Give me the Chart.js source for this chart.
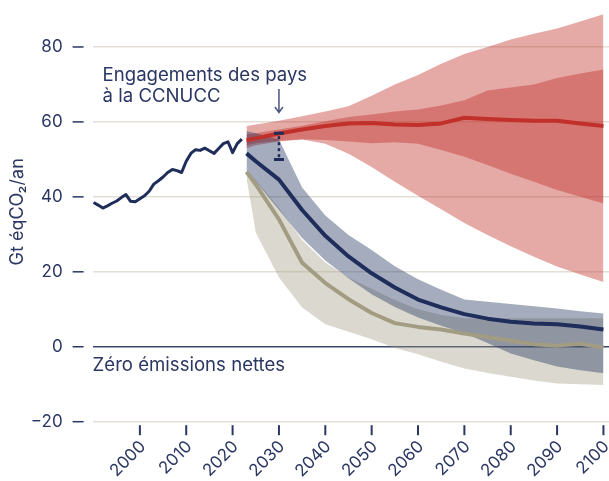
<!DOCTYPE html>
<html lang="fr">
<head>
<meta charset="utf-8">
<script src="https://cdn.jsdelivr.net/npm/chart.js@4.4.1/dist/chart.umd.min.js"></script>
<style>
  html, body { margin: 0; padding: 0; background: #ffffff; }
  canvas { display: block; }
</style>
</head>
<body>
<canvas id="chart" width="609" height="481"></canvas>
<script>
// Historical emissions (Gt CO2e / year)
const histYears = [1990,1991,1992,1993,1994,1995,1996,1997,1998,1999,2000,2001,2002,2003,2004,2005,2006,2007,2008,2009,2010,2011,2012,2013,2014,2015,2016,2017,2018,2019,2020,2021,2022];
const histValues = [38.5,37.8,37.0,37.6,38.3,38.9,39.8,40.6,38.8,38.7,39.5,40.3,41.5,43.4,44.3,45.3,46.5,47.3,47.0,46.5,49.5,51.6,52.6,52.4,53.0,52.3,51.6,52.9,54.2,54.7,51.8,54.2,55.4];

// Projection years
const projYears = [2023,2025,2030,2035,2040,2045,2050,2055,2060,2065,2070,2075,2080,2085,2090,2095,2100];

// Current policies: median and ranges
const policyMedian   = [55.1,55.6,56.9,58.0,58.9,59.6,59.7,59.3,59.2,59.6,61.1,60.8,60.5,60.3,60.3,59.6,58.9];
const policyOuterHigh= [58.9,59.3,60.3,61.5,62.8,64.2,67.0,70.0,72.5,75.5,78.1,80.0,82.0,83.5,84.9,86.8,88.7];
const policyOuterLow = [53.0,53.8,54.8,55.3,54.2,51.5,48.0,44.0,40.3,36.7,33.0,29.8,26.8,24.0,21.4,19.3,17.3];
const policyInnerHigh= [56.6,57.0,58.0,59.0,60.2,61.3,62.0,62.8,63.3,64.4,65.8,68.4,69.2,70.0,71.7,72.9,74.0];
const policyInnerLow = [53.8,54.3,55.0,55.4,55.2,54.8,54.3,54.6,54.2,52.5,50.7,48.5,46.2,44.0,41.8,40.0,38.2];

// 2 °C pathways
const path2Median = [51.6,49.5,44.6,36.5,29.6,24.1,19.6,15.8,12.6,10.5,8.7,7.5,6.7,6.2,6.0,5.4,4.6];
const path2High   = [57.5,57.0,55.3,42.5,35.0,29.8,25.8,21.5,18.0,15.2,12.6,12.0,11.4,10.8,10.2,9.5,8.9];
const path2Low    = [47.0,44.0,36.5,29.0,23.0,18.3,14.0,10.6,7.8,5.6,3.6,1.0,-1.8,-3.6,-5.3,-6.3,-7.1];

// 1.5 °C pathways
const path15Median = [46.7,43.3,34.0,22.4,17.0,12.7,9.0,6.3,5.3,4.6,3.5,2.6,1.6,0.7,0.3,0.8,-0.2];
const path15High   = [47.0,44.5,37.0,28.5,22.5,18.5,15.5,12.5,10.0,8.5,7.6,7.6,7.6,7.6,7.6,7.6,7.6];
const path15Low    = [45.0,30.5,18.5,10.5,6.0,4.0,2.0,-0.3,-2.0,-4.0,-5.8,-7.0,-8.0,-9.0,-9.8,-10.0,-10.2];

// NDC range in 2030
const ndcYear = 2030;
const ndcLow = 50;
const ndcHigh = 57;

// Axis ticks
const xTickValues = [2000,2010,2020,2030,2040,2050,2060,2070,2080,2090,2100];
const yTickValues = [-20,0,20,40,60,80];

const textColor = '#2b3763';
const navy = '#1f2d5b';
const red = '#c1302a';
const sand = '#a29c83';
const labelFont = "Inter, 'Noto Sans', sans-serif";

Chart.defaults.font.family = labelFont;
Chart.defaults.color = textColor;

function pts(xs, ys) { return xs.map((v, i) => ({ x: v, y: ys[i] })); }

function band(high, low, color, order) {
  return [
    { data: pts(projYears, high), fill: '+1', backgroundColor: color, borderWidth: 0, pointRadius: 0, order: order },
    { data: pts(projYears, low), fill: false, borderWidth: 0, pointRadius: 0, order: order + 0.1 }
  ];
}

function line(xs, ys, color, width, order) {
  return { data: pts(xs, ys), borderColor: color, borderWidth: width, pointRadius: 0, fill: false,
           tension: 0, borderJoinStyle: 'round', order: order };
}

const decorations = {
  id: 'decorations',
  afterDraw(chart) {
    const { ctx, chartArea, scales: { x, y } } = chart;
    ctx.save();

    // short dashes beside the value labels
    ctx.strokeStyle = textColor;
    ctx.lineWidth = 1.5;
    yTickValues.forEach(v => {
      const py = y.getPixelForValue(v);
      ctx.beginPath();
      ctx.moveTo(chartArea.left - 20, py);
      ctx.lineTo(chartArea.left - 9, py);
      ctx.stroke();
    });

    // year tick marks
    ctx.lineWidth = 2;
    xTickValues.forEach(v => {
      const px = x.getPixelForValue(v);
      ctx.beginPath();
      ctx.moveTo(px, chartArea.bottom + 3.5);
      ctx.lineTo(px, chartArea.bottom + 13.5);
      ctx.stroke();
    });

    // NDC range bar
    const nx = x.getPixelForValue(ndcYear);
    const nTop = y.getPixelForValue(ndcHigh);
    const nBot = y.getPixelForValue(ndcLow);
    ctx.strokeStyle = navy;
    ctx.lineWidth = 3;
    ctx.beginPath();
    ctx.moveTo(nx - 5, nTop); ctx.lineTo(nx + 5, nTop);
    ctx.moveTo(nx - 5, nBot); ctx.lineTo(nx + 5, nBot);
    ctx.stroke();
    ctx.lineWidth = 2.5;
    ctx.setLineDash([3, 3]);
    ctx.beginPath();
    ctx.moveTo(nx, nTop + 3); ctx.lineTo(nx, nBot - 2);
    ctx.stroke();
    ctx.setLineDash([]);

    // arrow pointing at the bar
    ctx.strokeStyle = '#4a5580';
    ctx.lineWidth = 1.5;
    ctx.beginPath();
    ctx.moveTo(nx, 89); ctx.lineTo(nx, 112);
    ctx.moveTo(nx - 4, 107); ctx.lineTo(nx, 112.5); ctx.lineTo(nx + 4, 107);
    ctx.stroke();

    // annotations
    ctx.fillStyle = textColor;
    ctx.font = '18.6px ' + labelFont;
    ctx.textAlign = 'left';
    ctx.textBaseline = 'alphabetic';
    ctx.fillText('Engagements des pays', chartArea.left + 10, 81);
    ctx.fillText('à la CCNUCC', chartArea.left + 10, 102);
    ctx.fillText('Zéro émissions nettes', chartArea.left, y.getPixelForValue(0) + 24);

    ctx.restore();
  }
};

new Chart(document.getElementById('chart'), {
  type: 'line',
  data: {
    datasets: [
      line(histYears, histValues, navy, 3, 0),
      line(projYears, path2Median, navy, 4, 1),
      line(projYears, path15Median, sand, 4, 2),
      line(projYears, policyMedian, red, 4, 3),
      ...band(path2High, path2Low, 'rgba(31,47,92,0.40)', 4),
      ...band(path15High, path15Low, 'rgba(160,154,128,0.38)', 5),
      ...band(policyInnerHigh, policyInnerLow, 'rgba(192,48,42,0.42)', 6),
      ...band(policyOuterHigh, policyOuterLow, 'rgba(192,48,42,0.415)', 7)
    ]
  },
  options: {
    responsive: false,
    animation: false,
    layout: { padding: { top: 2, right: 0, bottom: 0, left: 0 } },
    plugins: { legend: { display: false }, tooltip: { enabled: false } },
    scales: {
      x: {
        type: 'linear',
        min: 1989.8,
        max: 2101.2,
        afterBuildTicks(scale) { scale.ticks = xTickValues.map(v => ({ value: v })); },
        afterFit(scale) {
          scale.height = 59.3;
          scale.paddingLeft = 0; scale.paddingRight = 0;
          scale.paddingTop = 0; scale.paddingBottom = 0;
        },
        border: { display: false },
        grid: { display: false, drawTicks: false },
        ticks: {
          autoSkip: false,
          minRotation: 45,
          maxRotation: 45,
          padding: 15,
          labelOffset: 3,
          color: textColor,
          font: { size: 17 },
          callback: v => String(v)
        }
      },
      y: {
        min: -20,
        max: 92,
        afterBuildTicks(scale) { scale.ticks = yTickValues.map(v => ({ value: v })); },
        afterFit(scale) {
          scale.width = 92.6;
          scale.paddingLeft = 0; scale.paddingRight = 0;
          scale.paddingTop = 0; scale.paddingBottom = 0;
        },
        border: { display: false },
        grid: {
          drawTicks: false,
          lineWidth: 1.5,
          color: c => (c.tick && c.tick.value === 0) ? '#3b4671' : '#e3dfd6'
        },
        ticks: {
          padding: 30,
          color: textColor,
          font: { size: 17 },
          callback: v => v < 0 ? '\u2212' + Math.abs(v) : String(v)
        },
        title: {
          display: true,
          text: 'Gt éqCO₂/an',
          color: textColor,
          font: { size: 18 },
          padding: { top: 7, bottom: 0 }
        }
      }
    }
  },
  plugins: [decorations]
});
</script>
</body>
</html>
